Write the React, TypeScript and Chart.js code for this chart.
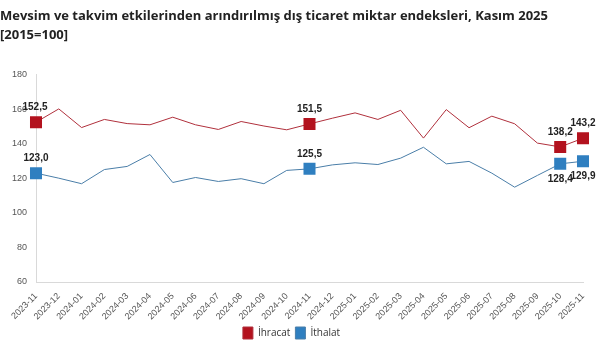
import React, { useEffect, useRef } from "react";
import { Chart, registerables } from "chart.js";

Chart.register(...registerables);

const months = [
  "2023-11", "2023-12", "2024-01", "2024-02", "2024-03", "2024-04", "2024-05",
  "2024-06", "2024-07", "2024-08", "2024-09", "2024-10", "2024-11", "2024-12",
  "2025-01", "2025-02", "2025-03", "2025-04", "2025-05", "2025-06", "2025-07",
  "2025-08", "2025-09", "2025-10", "2025-11",
];

const ihracat = [
  152.5, 160.2, 149.4, 154.1, 151.7, 151.0, 155.4, 151.0, 148.3, 152.9, 150.3,
  148.1, 151.5, 154.8, 157.9, 154.1, 159.4, 143.3, 159.8, 149.3, 156.0, 151.6,
  140.4, 138.2, 143.2,
];

const ithalat = [
  123.0, 120.1, 116.9, 125.1, 126.9, 133.8, 117.6, 120.5, 118.2, 119.8, 116.9,
  124.6, 125.5, 127.8, 129.0, 128.0, 131.7, 138.0, 128.4, 129.8, 123.0, 114.9,
  121.7, 128.4, 129.9,
];

const labeledIdx = [0, 12, 23, 24];
const ihracatLabelPos = ["above", "above", "above", "above"];
const ithalatLabelPos = ["above", "above", "below", "below"];

const titleLines = [
  "Mevsim ve takvim etkilerinden arındırılmış dış ticaret miktar endeksleri, Kasım 2025",
  "[2015=100]",
];

const yTicks = [60, 80, 100, 120, 140, 160, 180];

const fmt = (v: number) => v.toFixed(1).replace(".", ",");

const labelPlugin = {
  id: "pointLabels",
  afterDatasetsDraw(chart: any) {
    const ctx = chart.ctx;
    ctx.save();
    ctx.font = "bold 10px 'Liberation Sans', Arial, sans-serif";
    ctx.fillStyle = "#222";
    ctx.textAlign = "center";
    chart.data.datasets.forEach((ds: any, di: number) => {
      const meta = chart.getDatasetMeta(di);
      const positions = di === 0 ? ihracatLabelPos : ithalatLabelPos;
      labeledIdx.forEach((idx, k) => {
        const el = meta.data[idx];
        if (!el) return;
        const pos = positions[k];
        let x = el.x;
        if (idx === 0 && di === 0) x = el.x - 1;
        if (pos === "above") {
          ctx.textBaseline = "bottom";
          ctx.fillText(fmt(ds.data[idx]), x, el.y - 10);
        } else {
          ctx.textBaseline = "top";
          ctx.fillText(fmt(ds.data[idx]), x, el.y + 10);
        }
      });
    });
    ctx.restore();
  },
};

export default function App() {
  const ref = useRef<HTMLCanvasElement | null>(null);

  useEffect(() => {
    if (!ref.current) return;
    const radii = (n: number) =>
      months.map((_, i) => (labeledIdx.includes(i) ? n : 0));
    const chart = new Chart(ref.current, {
      type: "line",
      data: {
        labels: months,
        datasets: [
          {
            label: "İhracat",
            data: ihracat,
            borderColor: "#b0303c",
            backgroundColor: "#b3121e",
            pointBackgroundColor: "#b3121e",
            pointBorderColor: "#b3121e",
            borderWidth: 1,
            pointStyle: "rect",
            pointRadius: radii(8.5),
            pointHoverRadius: radii(8.5),
            pointBorderWidth: 0,
            tension: 0,
          },
          {
            label: "İthalat",
            data: ithalat,
            borderColor: "#4a7ea8",
            backgroundColor: "#2f7fc0",
            pointBackgroundColor: "#2f7fc0",
            pointBorderColor: "#2f7fc0",
            borderWidth: 1,
            pointStyle: "rect",
            pointRadius: radii(8.5),
            pointHoverRadius: radii(8.5),
            pointBorderWidth: 0,
            tension: 0,
          },
        ],
      },
      options: {
        animation: false,
        responsive: false,
        maintainAspectRatio: false,
        layout: { padding: { left: 0, right: 24, top: 0, bottom: 11 } },
        plugins: {
          title: {
            display: true,
            text: titleLines,
            align: "start",
            color: "#222",
            font: { family: "'Open Sans', sans-serif", size: 13, weight: "bold", lineHeight: 1.45 },
            padding: { top: 7, bottom: 30 },
          },
          legend: {
            display: true,
            position: "bottom",
            labels: {
              boxWidth: 10,
              boxHeight: 12,
              color: "#333",
              font: { family: "'Open Sans', sans-serif", size: 10 },
              padding: 5,
              useBorderRadius: false,
            },
          },
          tooltip: { enabled: false },
        },
        scales: {
          x: {
            offset: false,
            afterFit: (scale: any) => {
              scale.height = 40;
            },
            grid: { display: false, drawTicks: false },
            border: { display: true, color: "#d9d9d9" },
            ticks: {
              color: "#555",
              font: { family: "'Liberation Sans', Arial, sans-serif", size: 9 },
              maxRotation: 45,
              minRotation: 45,
              autoSkip: false,
              padding: 9,
            },
          },
          y: {
            min: 60,
            max: 180,
            afterBuildTicks: (scale: any) => {
              scale.ticks = yTicks.map((v) => ({ value: v }));
            },
            afterFit: (scale: any) => {
              scale.width = 36;
            },
            grid: { display: false, drawTicks: false },
            border: { display: true, color: "#d9d9d9" },
            ticks: {
              color: "#555",
              font: { family: "'Liberation Sans', Arial, sans-serif", size: 9 },
              padding: 9,
            },
          },
        },
      },
      plugins: [labelPlugin],
    });
    return () => chart.destroy();
  }, []);

  return (
    <div style={{ position: "absolute", left: 0, top: 0, width: 607, height: 360, background: "#fff" }}>
      <canvas ref={ref} width={607} height={360} style={{ display: "block" }} />
    </div>
  );
}
